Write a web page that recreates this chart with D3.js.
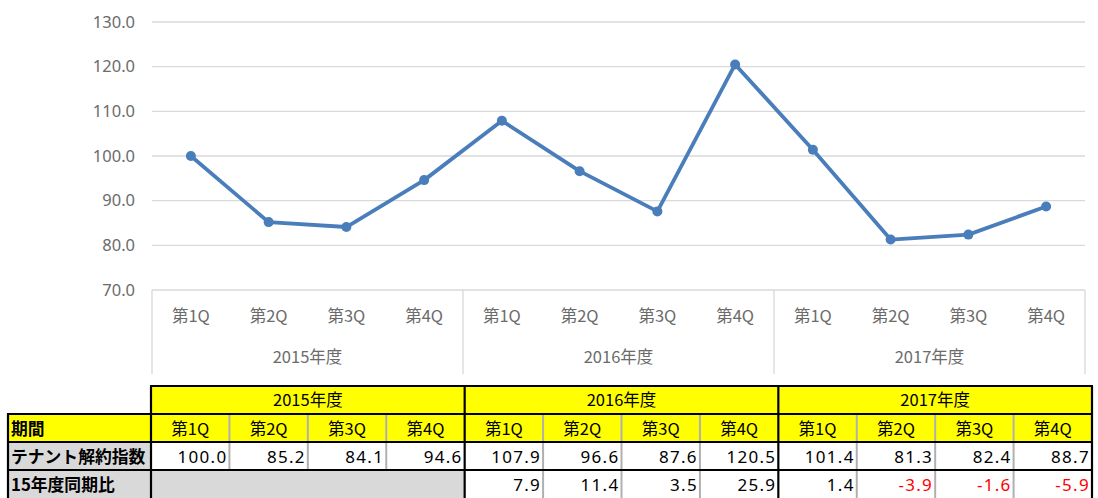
<!DOCTYPE html>
<html><head><meta charset="utf-8">
<script src="https://cdn.jsdelivr.net/npm/d3@7/dist/d3.min.js"></script>
<style>
html,body{margin:0;padding:0;background:#fff;}
svg{display:block;}
text{font-family:"Noto Sans CJK JP","Noto Sans",sans-serif;}
</style></head>
<body>
<svg id="chart" width="1098" height="498"></svg>
<script>
const years = ["2015年度","2016年度","2017年度"];
const quarters = ["第1Q","第2Q","第3Q","第4Q"];
const indexValues = [100.0,85.2,84.1,94.6,107.9,96.6,87.6,120.5,101.4,81.3,82.4,88.7];
const yoyValues = [null,null,null,null,7.9,11.4,3.5,25.9,1.4,-3.9,-1.6,-5.9];
const yTicks = [70,80,90,100,110,120,130];
const rowLabels = ["期間","テナント解約指数","15年度同期比"];

const cats = [];
years.forEach((y,yi)=>quarters.forEach((q,qi)=>cats.push({year:y,q:q,i:yi*4+qi})));

const svg = d3.select("#chart");
const x = d3.scaleBand().domain(d3.range(cats.length)).range([152,1085]).padding(0);
const y = d3.scaleLinear().domain([70,130]).range([290,22]);
const gridColor = "#d9d9d9";
const axisText = "#6b6b6b";
const blue = "#4a7ebb";
const numFont = "'Noto Sans','Noto Sans CJK JP',sans-serif";

// gridlines
svg.append("g").selectAll("line").data(yTicks.filter(t=>t>70)).join("line")
  .attr("x1",152).attr("x2",1085).attr("y1",d=>y(d)).attr("y2",d=>y(d))
  .attr("stroke",gridColor).attr("stroke-width",1.3);

// y axis labels
const yAxis = svg.append("g").attr("transform","translate(152,0)")
  .call(d3.axisLeft(y).tickValues(yTicks).tickFormat(d3.format(".1f")).tickSize(0).tickPadding(17));
yAxis.select(".domain").remove();
yAxis.selectAll("text").attr("fill",axisText).style("font-size","16.5px").style("font-family",numFont);

// category axis
const xa = svg.append("g");
xa.append("line").attr("x1",152).attr("x2",1085).attr("y1",290).attr("y2",290).attr("stroke",gridColor).attr("stroke-width",1.3);
const yearBounds = years.map((yv,yi)=>[x(yi*4), x(yi*4+3)+x.bandwidth()]);
const sepX = [x(0), x(4), x(8), x(11)+x.bandwidth()];
xa.selectAll("line.sep").data(sepX).join("line").attr("class","sep")
  .attr("x1",d=>d).attr("x2",d=>d).attr("y1",290).attr("y2",374)
  .attr("stroke",gridColor).attr("stroke-width",1.3);
xa.selectAll("text.q").data(cats).join("text").attr("class","q")
  .attr("x",d=>x(d.i)+x.bandwidth()/2).attr("y",322)
  .attr("text-anchor","middle").attr("fill",axisText).style("font-size","16.5px").text(d=>d.q);
xa.selectAll("text.yr").data(years).join("text").attr("class","yr")
  .attr("x",(d,i)=>(yearBounds[i][0]+yearBounds[i][1])/2).attr("y",363)
  .attr("text-anchor","middle").attr("fill",axisText).style("font-size","16.5px").text(d=>d);

// line
const line = d3.line().x((d,i)=>x(i)+x.bandwidth()/2).y(d=>y(d));
svg.append("path").datum(indexValues).attr("d",line).attr("fill","none")
  .attr("stroke",blue).attr("stroke-width",3.8).attr("stroke-linejoin","round");
svg.append("g").selectAll("circle").data(indexValues).join("circle")
  .attr("cx",(d,i)=>x(i)+x.bandwidth()/2).attr("cy",d=>y(d)).attr("r",5).attr("fill",blue);

// table
const tx = d3.scaleBand().domain(d3.range(cats.length)).range([151,1092]).padding(0);
const rows = [386,414,442,470,498];
const labelLeft = 8;
const tbl = svg.append("g");
const yellow = "#ffff00", gray = "#d9d9d9";
// year header row
years.forEach((yv,yi)=>{
  const x0 = tx(yi*4), x1 = tx(yi*4+3)+tx.bandwidth();
  tbl.append("rect").attr("x",x0).attr("y",rows[0]).attr("width",x1-x0).attr("height",rows[1]-rows[0]).attr("fill",yellow);
  tbl.append("text").attr("x",(x0+x1)/2).attr("y",rows[0]+20).attr("text-anchor","middle").style("font-size","16.5px").attr("fill","#000").text(yv);
});
// row label column
const labelFills = [yellow,gray,gray];
rowLabels.forEach((l,ri)=>{
  tbl.append("rect").attr("x",labelLeft).attr("y",rows[ri+1]).attr("width",151-labelLeft).attr("height",rows[ri+2]-rows[ri+1]).attr("fill",labelFills[ri]);
  tbl.append("text").attr("x",labelLeft+3).attr("y",rows[ri+1]+21).style("font-size","16.8px").style("font-weight","bold").attr("fill","#000").text(l);
});
// quarter header row
tbl.append("rect").attr("x",151).attr("y",rows[1]).attr("width",1092-151).attr("height",28).attr("fill",yellow);
tbl.selectAll("text.tq").data(cats).join("text").attr("class","tq")
  .attr("x",d=>tx(d.i)+tx.bandwidth()/2).attr("y",rows[1]+21).attr("text-anchor","middle")
  .style("font-size","16.5px").attr("fill","#000").text(d=>d.q);
// index row
tbl.selectAll("text.iv").data(indexValues).join("text").attr("class","iv")
  .attr("x",(d,i)=>tx(i)+tx.bandwidth()-2).attr("y",rows[2]+21).attr("text-anchor","end")
  .style("font-size","17px").style("letter-spacing","1.3px").style("font-family",numFont).attr("fill","#000").text(d=>d.toFixed(1));
// yoy row
tbl.append("rect").attr("x",151).attr("y",rows[3]).attr("width",tx(4)-151).attr("height",28).attr("fill",gray);
tbl.selectAll("text.yv").data(yoyValues.map((v,i)=>({v,i})).filter(d=>d.v!==null)).join("text").attr("class","yv")
  .attr("x",d=>tx(d.i)+tx.bandwidth()-2).attr("y",rows[3]+21).attr("text-anchor","end")
  .style("font-size","17px").style("letter-spacing","1.3px").style("font-family",numFont)
  .attr("fill",d=>d.v<0?"#ff0000":"#000").text(d=>d.v.toFixed(1));
// thin column separators
const thinSep = d3.range(1,12).filter(i=>i%4!==0);
tbl.selectAll("line.thin").data(thinSep).join("line").attr("class","thin")
  .attr("x1",i=>tx(i)).attr("x2",i=>tx(i)).attr("y1",rows[1]).attr("y2",rows[3])
  .attr("stroke","#b0b0b0").attr("stroke-width",2);
tbl.selectAll("line.thin2").data(thinSep.filter(i=>i>=4)).join("line").attr("class","thin2")
  .attr("x1",i=>tx(i)).attr("x2",i=>tx(i)).attr("y1",rows[3]).attr("y2",498)
  .attr("stroke","#b0b0b0").attr("stroke-width",2);
// thick borders
const bw = 2.2;
const hl = (x1,x2,yy)=>tbl.append("line").attr("x1",x1).attr("x2",x2).attr("y1",yy).attr("y2",yy).attr("stroke","#000").attr("stroke-width",bw);
const vl = (xx,y1,y2)=>tbl.append("line").attr("x1",xx).attr("x2",xx).attr("y1",y1).attr("y2",y2).attr("stroke","#000").attr("stroke-width",bw);
hl(151-1,1092+1,rows[0]);
hl(labelLeft-1,1092+1,rows[1]);
hl(labelLeft-1,1092+1,rows[2]);
hl(labelLeft-1,1092+1,rows[3]);
vl(labelLeft,rows[1],498);
[151, tx(4), tx(8), 1092].forEach(xx=>vl(xx,rows[0],498));
</script>
</body></html>
